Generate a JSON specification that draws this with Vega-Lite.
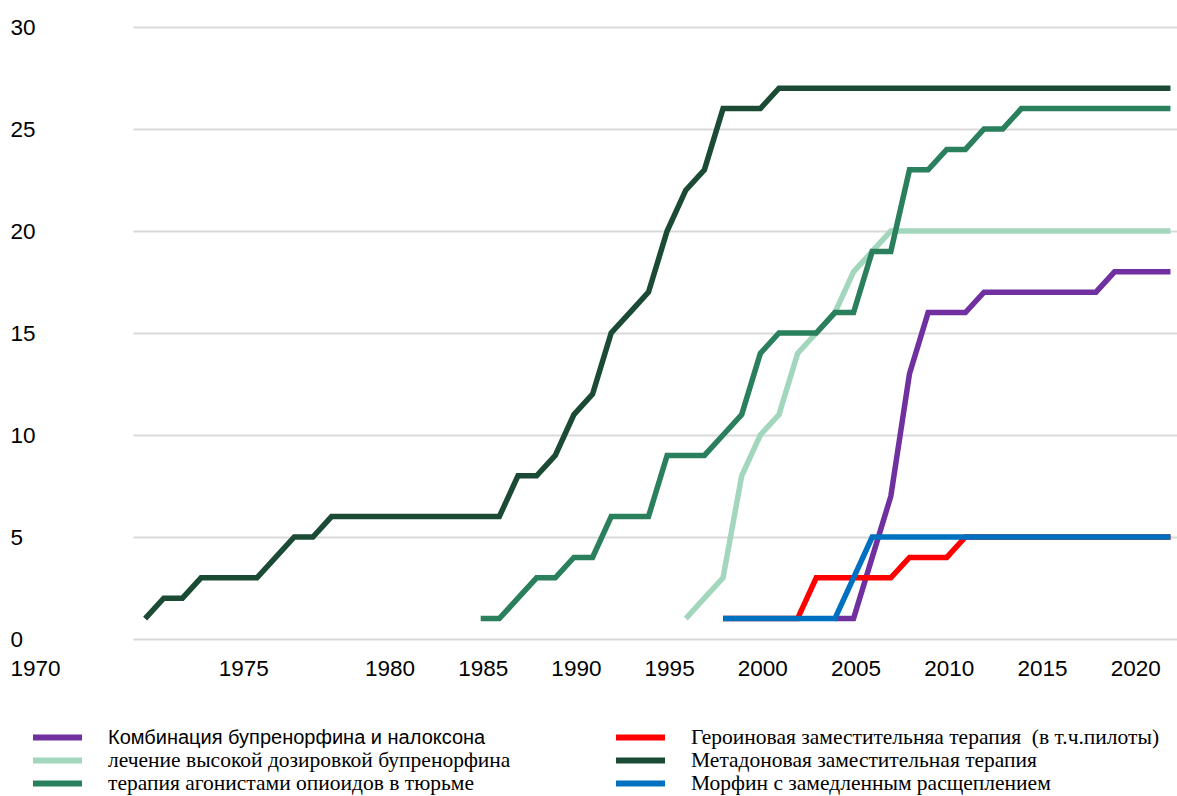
{
  "$schema": "https://vega.github.io/schema/vega-lite/v6.json",
  "autosize": {"type": "none"},
  "width": 1044,
  "height": 612,
  "padding": {"left": 133, "top": 27, "right": 0, "bottom": 157},
  "background": "white",
  "config": {"view": {"stroke": null}},
  "datasets": {
    "rows": [
      {"series": "Метадоновая заместительная терапия", "year": 1967, "value": 1},
      {"series": "Метадоновая заместительная терапия", "year": 1968, "value": 2},
      {"series": "Метадоновая заместительная терапия", "year": 1969, "value": 2},
      {"series": "Метадоновая заместительная терапия", "year": 1970, "value": 3},
      {"series": "Метадоновая заместительная терапия", "year": 1971, "value": 3},
      {"series": "Метадоновая заместительная терапия", "year": 1972, "value": 3},
      {"series": "Метадоновая заместительная терапия", "year": 1973, "value": 3},
      {"series": "Метадоновая заместительная терапия", "year": 1974, "value": 4},
      {"series": "Метадоновая заместительная терапия", "year": 1975, "value": 5},
      {"series": "Метадоновая заместительная терапия", "year": 1976, "value": 5},
      {"series": "Метадоновая заместительная терапия", "year": 1977, "value": 6},
      {"series": "Метадоновая заместительная терапия", "year": 1978, "value": 6},
      {"series": "Метадоновая заместительная терапия", "year": 1979, "value": 6},
      {"series": "Метадоновая заместительная терапия", "year": 1980, "value": 6},
      {"series": "Метадоновая заместительная терапия", "year": 1981, "value": 6},
      {"series": "Метадоновая заместительная терапия", "year": 1982, "value": 6},
      {"series": "Метадоновая заместительная терапия", "year": 1983, "value": 6},
      {"series": "Метадоновая заместительная терапия", "year": 1984, "value": 6},
      {"series": "Метадоновая заместительная терапия", "year": 1985, "value": 6},
      {"series": "Метадоновая заместительная терапия", "year": 1986, "value": 6},
      {"series": "Метадоновая заместительная терапия", "year": 1987, "value": 8},
      {"series": "Метадоновая заместительная терапия", "year": 1988, "value": 8},
      {"series": "Метадоновая заместительная терапия", "year": 1989, "value": 9},
      {"series": "Метадоновая заместительная терапия", "year": 1990, "value": 11},
      {"series": "Метадоновая заместительная терапия", "year": 1991, "value": 12},
      {"series": "Метадоновая заместительная терапия", "year": 1992, "value": 15},
      {"series": "Метадоновая заместительная терапия", "year": 1993, "value": 16},
      {"series": "Метадоновая заместительная терапия", "year": 1994, "value": 17},
      {"series": "Метадоновая заместительная терапия", "year": 1995, "value": 20},
      {"series": "Метадоновая заместительная терапия", "year": 1996, "value": 22},
      {"series": "Метадоновая заместительная терапия", "year": 1997, "value": 23},
      {"series": "Метадоновая заместительная терапия", "year": 1998, "value": 26},
      {"series": "Метадоновая заместительная терапия", "year": 1999, "value": 26},
      {"series": "Метадоновая заместительная терапия", "year": 2000, "value": 26},
      {"series": "Метадоновая заместительная терапия", "year": 2001, "value": 27},
      {"series": "Метадоновая заместительная терапия", "year": 2002, "value": 27},
      {"series": "Метадоновая заместительная терапия", "year": 2003, "value": 27},
      {"series": "Метадоновая заместительная терапия", "year": 2004, "value": 27},
      {"series": "Метадоновая заместительная терапия", "year": 2005, "value": 27},
      {"series": "Метадоновая заместительная терапия", "year": 2006, "value": 27},
      {"series": "Метадоновая заместительная терапия", "year": 2007, "value": 27},
      {"series": "Метадоновая заместительная терапия", "year": 2008, "value": 27},
      {"series": "Метадоновая заместительная терапия", "year": 2009, "value": 27},
      {"series": "Метадоновая заместительная терапия", "year": 2010, "value": 27},
      {"series": "Метадоновая заместительная терапия", "year": 2011, "value": 27},
      {"series": "Метадоновая заместительная терапия", "year": 2012, "value": 27},
      {"series": "Метадоновая заместительная терапия", "year": 2013, "value": 27},
      {"series": "Метадоновая заместительная терапия", "year": 2014, "value": 27},
      {"series": "Метадоновая заместительная терапия", "year": 2015, "value": 27},
      {"series": "Метадоновая заместительная терапия", "year": 2016, "value": 27},
      {"series": "Метадоновая заместительная терапия", "year": 2017, "value": 27},
      {"series": "Метадоновая заместительная терапия", "year": 2018, "value": 27},
      {"series": "Метадоновая заместительная терапия", "year": 2019, "value": 27},
      {"series": "Метадоновая заместительная терапия", "year": 2020, "value": 27},
      {"series": "Метадоновая заместительная терапия", "year": 2021, "value": 27},
      {"series": "Метадоновая заместительная терапия", "year": 2022, "value": 27},

      {"series": "лечение высокой дозировкой бупренорфина", "year": 1996, "value": 1},
      {"series": "лечение высокой дозировкой бупренорфина", "year": 1997, "value": 2},
      {"series": "лечение высокой дозировкой бупренорфина", "year": 1998, "value": 3},
      {"series": "лечение высокой дозировкой бупренорфина", "year": 1999, "value": 8},
      {"series": "лечение высокой дозировкой бупренорфина", "year": 2000, "value": 10},
      {"series": "лечение высокой дозировкой бупренорфина", "year": 2001, "value": 11},
      {"series": "лечение высокой дозировкой бупренорфина", "year": 2002, "value": 14},
      {"series": "лечение высокой дозировкой бупренорфина", "year": 2003, "value": 15},
      {"series": "лечение высокой дозировкой бупренорфина", "year": 2004, "value": 16},
      {"series": "лечение высокой дозировкой бупренорфина", "year": 2005, "value": 18},
      {"series": "лечение высокой дозировкой бупренорфина", "year": 2006, "value": 19},
      {"series": "лечение высокой дозировкой бупренорфина", "year": 2007, "value": 20},
      {"series": "лечение высокой дозировкой бупренорфина", "year": 2008, "value": 20},
      {"series": "лечение высокой дозировкой бупренорфина", "year": 2009, "value": 20},
      {"series": "лечение высокой дозировкой бупренорфина", "year": 2010, "value": 20},
      {"series": "лечение высокой дозировкой бупренорфина", "year": 2011, "value": 20},
      {"series": "лечение высокой дозировкой бупренорфина", "year": 2012, "value": 20},
      {"series": "лечение высокой дозировкой бупренорфина", "year": 2013, "value": 20},
      {"series": "лечение высокой дозировкой бупренорфина", "year": 2014, "value": 20},
      {"series": "лечение высокой дозировкой бупренорфина", "year": 2015, "value": 20},
      {"series": "лечение высокой дозировкой бупренорфина", "year": 2016, "value": 20},
      {"series": "лечение высокой дозировкой бупренорфина", "year": 2017, "value": 20},
      {"series": "лечение высокой дозировкой бупренорфина", "year": 2018, "value": 20},
      {"series": "лечение высокой дозировкой бупренорфина", "year": 2019, "value": 20},
      {"series": "лечение высокой дозировкой бупренорфина", "year": 2020, "value": 20},
      {"series": "лечение высокой дозировкой бупренорфина", "year": 2021, "value": 20},
      {"series": "лечение высокой дозировкой бупренорфина", "year": 2022, "value": 20},

      {"series": "терапия агонистами опиоидов в тюрьме", "year": 1985, "value": 1},
      {"series": "терапия агонистами опиоидов в тюрьме", "year": 1986, "value": 1},
      {"series": "терапия агонистами опиоидов в тюрьме", "year": 1987, "value": 2},
      {"series": "терапия агонистами опиоидов в тюрьме", "year": 1988, "value": 3},
      {"series": "терапия агонистами опиоидов в тюрьме", "year": 1989, "value": 3},
      {"series": "терапия агонистами опиоидов в тюрьме", "year": 1990, "value": 4},
      {"series": "терапия агонистами опиоидов в тюрьме", "year": 1991, "value": 4},
      {"series": "терапия агонистами опиоидов в тюрьме", "year": 1992, "value": 6},
      {"series": "терапия агонистами опиоидов в тюрьме", "year": 1993, "value": 6},
      {"series": "терапия агонистами опиоидов в тюрьме", "year": 1994, "value": 6},
      {"series": "терапия агонистами опиоидов в тюрьме", "year": 1995, "value": 9},
      {"series": "терапия агонистами опиоидов в тюрьме", "year": 1996, "value": 9},
      {"series": "терапия агонистами опиоидов в тюрьме", "year": 1997, "value": 9},
      {"series": "терапия агонистами опиоидов в тюрьме", "year": 1998, "value": 10},
      {"series": "терапия агонистами опиоидов в тюрьме", "year": 1999, "value": 11},
      {"series": "терапия агонистами опиоидов в тюрьме", "year": 2000, "value": 14},
      {"series": "терапия агонистами опиоидов в тюрьме", "year": 2001, "value": 15},
      {"series": "терапия агонистами опиоидов в тюрьме", "year": 2002, "value": 15},
      {"series": "терапия агонистами опиоидов в тюрьме", "year": 2003, "value": 15},
      {"series": "терапия агонистами опиоидов в тюрьме", "year": 2004, "value": 16},
      {"series": "терапия агонистами опиоидов в тюрьме", "year": 2005, "value": 16},
      {"series": "терапия агонистами опиоидов в тюрьме", "year": 2006, "value": 19},
      {"series": "терапия агонистами опиоидов в тюрьме", "year": 2007, "value": 19},
      {"series": "терапия агонистами опиоидов в тюрьме", "year": 2008, "value": 23},
      {"series": "терапия агонистами опиоидов в тюрьме", "year": 2009, "value": 23},
      {"series": "терапия агонистами опиоидов в тюрьме", "year": 2010, "value": 24},
      {"series": "терапия агонистами опиоидов в тюрьме", "year": 2011, "value": 24},
      {"series": "терапия агонистами опиоидов в тюрьме", "year": 2012, "value": 25},
      {"series": "терапия агонистами опиоидов в тюрьме", "year": 2013, "value": 25},
      {"series": "терапия агонистами опиоидов в тюрьме", "year": 2014, "value": 26},
      {"series": "терапия агонистами опиоидов в тюрьме", "year": 2015, "value": 26},
      {"series": "терапия агонистами опиоидов в тюрьме", "year": 2016, "value": 26},
      {"series": "терапия агонистами опиоидов в тюрьме", "year": 2017, "value": 26},
      {"series": "терапия агонистами опиоидов в тюрьме", "year": 2018, "value": 26},
      {"series": "терапия агонистами опиоидов в тюрьме", "year": 2019, "value": 26},
      {"series": "терапия агонистами опиоидов в тюрьме", "year": 2020, "value": 26},
      {"series": "терапия агонистами опиоидов в тюрьме", "year": 2021, "value": 26},
      {"series": "терапия агонистами опиоидов в тюрьме", "year": 2022, "value": 26},

      {"series": "Комбинация бупренорфина и налоксона", "year": 2004, "value": 1},
      {"series": "Комбинация бупренорфина и налоксона", "year": 2005, "value": 1},
      {"series": "Комбинация бупренорфина и налоксона", "year": 2006, "value": 4},
      {"series": "Комбинация бупренорфина и налоксона", "year": 2007, "value": 7},
      {"series": "Комбинация бупренорфина и налоксона", "year": 2008, "value": 13},
      {"series": "Комбинация бупренорфина и налоксона", "year": 2009, "value": 16},
      {"series": "Комбинация бупренорфина и налоксона", "year": 2010, "value": 16},
      {"series": "Комбинация бупренорфина и налоксона", "year": 2011, "value": 16},
      {"series": "Комбинация бупренорфина и налоксона", "year": 2012, "value": 17},
      {"series": "Комбинация бупренорфина и налоксона", "year": 2013, "value": 17},
      {"series": "Комбинация бупренорфина и налоксона", "year": 2014, "value": 17},
      {"series": "Комбинация бупренорфина и налоксона", "year": 2015, "value": 17},
      {"series": "Комбинация бупренорфина и налоксона", "year": 2016, "value": 17},
      {"series": "Комбинация бупренорфина и налоксона", "year": 2017, "value": 17},
      {"series": "Комбинация бупренорфина и налоксона", "year": 2018, "value": 17},
      {"series": "Комбинация бупренорфина и налоксона", "year": 2019, "value": 18},
      {"series": "Комбинация бупренорфина и налоксона", "year": 2020, "value": 18},
      {"series": "Комбинация бупренорфина и налоксона", "year": 2021, "value": 18},
      {"series": "Комбинация бупренорфина и налоксона", "year": 2022, "value": 18},

      {"series": "Героиновая заместительняа терапия  (в т.ч.пилоты)", "year": 1998, "value": 1},
      {"series": "Героиновая заместительняа терапия  (в т.ч.пилоты)", "year": 1999, "value": 1},
      {"series": "Героиновая заместительняа терапия  (в т.ч.пилоты)", "year": 2000, "value": 1},
      {"series": "Героиновая заместительняа терапия  (в т.ч.пилоты)", "year": 2001, "value": 1},
      {"series": "Героиновая заместительняа терапия  (в т.ч.пилоты)", "year": 2002, "value": 1},
      {"series": "Героиновая заместительняа терапия  (в т.ч.пилоты)", "year": 2003, "value": 3},
      {"series": "Героиновая заместительняа терапия  (в т.ч.пилоты)", "year": 2004, "value": 3},
      {"series": "Героиновая заместительняа терапия  (в т.ч.пилоты)", "year": 2005, "value": 3},
      {"series": "Героиновая заместительняа терапия  (в т.ч.пилоты)", "year": 2006, "value": 3},
      {"series": "Героиновая заместительняа терапия  (в т.ч.пилоты)", "year": 2007, "value": 3},
      {"series": "Героиновая заместительняа терапия  (в т.ч.пилоты)", "year": 2008, "value": 4},
      {"series": "Героиновая заместительняа терапия  (в т.ч.пилоты)", "year": 2009, "value": 4},
      {"series": "Героиновая заместительняа терапия  (в т.ч.пилоты)", "year": 2010, "value": 4},
      {"series": "Героиновая заместительняа терапия  (в т.ч.пилоты)", "year": 2011, "value": 5},
      {"series": "Героиновая заместительняа терапия  (в т.ч.пилоты)", "year": 2012, "value": 5},
      {"series": "Героиновая заместительняа терапия  (в т.ч.пилоты)", "year": 2013, "value": 5},
      {"series": "Героиновая заместительняа терапия  (в т.ч.пилоты)", "year": 2014, "value": 5},
      {"series": "Героиновая заместительняа терапия  (в т.ч.пилоты)", "year": 2015, "value": 5},
      {"series": "Героиновая заместительняа терапия  (в т.ч.пилоты)", "year": 2016, "value": 5},
      {"series": "Героиновая заместительняа терапия  (в т.ч.пилоты)", "year": 2017, "value": 5},
      {"series": "Героиновая заместительняа терапия  (в т.ч.пилоты)", "year": 2018, "value": 5},
      {"series": "Героиновая заместительняа терапия  (в т.ч.пилоты)", "year": 2019, "value": 5},
      {"series": "Героиновая заместительняа терапия  (в т.ч.пилоты)", "year": 2020, "value": 5},
      {"series": "Героиновая заместительняа терапия  (в т.ч.пилоты)", "year": 2021, "value": 5},
      {"series": "Героиновая заместительняа терапия  (в т.ч.пилоты)", "year": 2022, "value": 5},

      {"series": "Морфин с замедленным расщеплением", "year": 1998, "value": 1},
      {"series": "Морфин с замедленным расщеплением", "year": 1999, "value": 1},
      {"series": "Морфин с замедленным расщеплением", "year": 2000, "value": 1},
      {"series": "Морфин с замедленным расщеплением", "year": 2001, "value": 1},
      {"series": "Морфин с замедленным расщеплением", "year": 2002, "value": 1},
      {"series": "Морфин с замедленным расщеплением", "year": 2003, "value": 1},
      {"series": "Морфин с замедленным расщеплением", "year": 2004, "value": 1},
      {"series": "Морфин с замедленным расщеплением", "year": 2005, "value": 3},
      {"series": "Морфин с замедленным расщеплением", "year": 2006, "value": 5},
      {"series": "Морфин с замедленным расщеплением", "year": 2007, "value": 5},
      {"series": "Морфин с замедленным расщеплением", "year": 2008, "value": 5},
      {"series": "Морфин с замедленным расщеплением", "year": 2009, "value": 5},
      {"series": "Морфин с замедленным расщеплением", "year": 2010, "value": 5},
      {"series": "Морфин с замедленным расщеплением", "year": 2011, "value": 5},
      {"series": "Морфин с замедленным расщеплением", "year": 2012, "value": 5},
      {"series": "Морфин с замедленным расщеплением", "year": 2013, "value": 5},
      {"series": "Морфин с замедленным расщеплением", "year": 2014, "value": 5},
      {"series": "Морфин с замедленным расщеплением", "year": 2015, "value": 5},
      {"series": "Морфин с замедленным расщеплением", "year": 2016, "value": 5},
      {"series": "Морфин с замедленным расщеплением", "year": 2017, "value": 5},
      {"series": "Морфин с замедленным расщеплением", "year": 2018, "value": 5},
      {"series": "Морфин с замедленным расщеплением", "year": 2019, "value": 5},
      {"series": "Морфин с замедленным расщеплением", "year": 2020, "value": 5},
      {"series": "Морфин с замедленным расщеплением", "year": 2021, "value": 5},
      {"series": "Морфин с замедленным расщеплением", "year": 2022, "value": 5}
    ]
  },
  "data": {"name": "rows"},
  "mark": {"type": "line", "strokeWidth": 5.5, "strokeCap": "butt", "strokeJoin": "miter", "clip": false},
  "encoding": {
    "x": {
      "field": "year",
      "type": "quantitative",
      "scale": {"domain": [1966.35, 2022.35], "nice": false, "zero": false},
      "axis": {
        "title": null,
        "values": [1970, 1975, 1980, 1985, 1990, 1995, 2000, 2005, 2010, 2015, 2020],
        "format": "d",
        "grid": false,
        "domain": false,
        "ticks": false,
        "tickSize": 0,
        "labelPadding": 36,
        "labelBaseline": "alphabetic",
        "labelFont": "Liberation Sans",
        "labelFontSize": 22.5,
        "labelColor": "#000000",
        "labelOverlap": false,
        "labelFlush": false,
        "labelOffset": {
          "condition": [
            {"test": "datum.value === 1970", "value": -166},
            {"test": "datum.value === 1975", "value": -51}
          ],
          "value": 2
        }
      }
    },
    "y": {
      "field": "value",
      "type": "quantitative",
      "scale": {"domain": [0, 30], "nice": false},
      "axis": {
        "title": null,
        "values": [0, 5, 10, 15, 20, 25, 30],
        "grid": true,
        "gridColor": "#d9d9d9",
        "gridWidth": 2,
        "domain": false,
        "ticks": false,
        "tickSize": 0,
        "labelPadding": 123,
        "labelAlign": "left",
        "labelBaseline": "middle",
        "labelFont": "Liberation Sans",
        "labelFontSize": 22.5,
        "labelColor": "#000000"
      }
    },
    "color": {
      "field": "series",
      "type": "nominal",
      "scale": {
        "domain": [
          "Комбинация бупренорфина и налоксона",
          "Героиновая заместительняа терапия  (в т.ч.пилоты)",
          "лечение высокой дозировкой бупренорфина",
          "Метадоновая заместительная терапия",
          "терапия агонистами опиоидов в тюрьме",
          "Морфин с замедленным расщеплением"
        ],
        "range": ["#7030a0", "#ff0000", "#a2d6bd", "#1b4b35", "#2a7f5d", "#0070c0"]
      },
      "legend": {
        "title": null,
        "orient": "none",
        "legendX": -103,
        "legendY": 699,
        "columns": 2,
        "direction": "horizontal",
        "padding": 0,
        "columnPadding": 102,
        "rowPadding": 0,
        "symbolType": "stroke",
        "symbolSize": 2401,
        "symbolStrokeWidth": 6,
        "clipHeight": 23,
        "labelOffset": 23,
        "labelFont": "Liberation Serif",
        "labelFontSize": 21.5,
        "labelColor": "#000000",
        "labelLimit": 700,
        "encode": {
          "labels": {
            "update": {
              "font": {"signal": "datum.label === 'Комбинация бупренорфина и налоксона' ? 'Liberation Sans' : 'Liberation Serif'"},
              "fontSize": {"signal": "datum.label === 'Комбинация бупренорфина и налоксона' ? 20 : 21.5"},
              "text": {"signal": "replace(datum.label, '  ', ' \u00a0')"}
            }
          }
        }
      }
    }
  }
}
